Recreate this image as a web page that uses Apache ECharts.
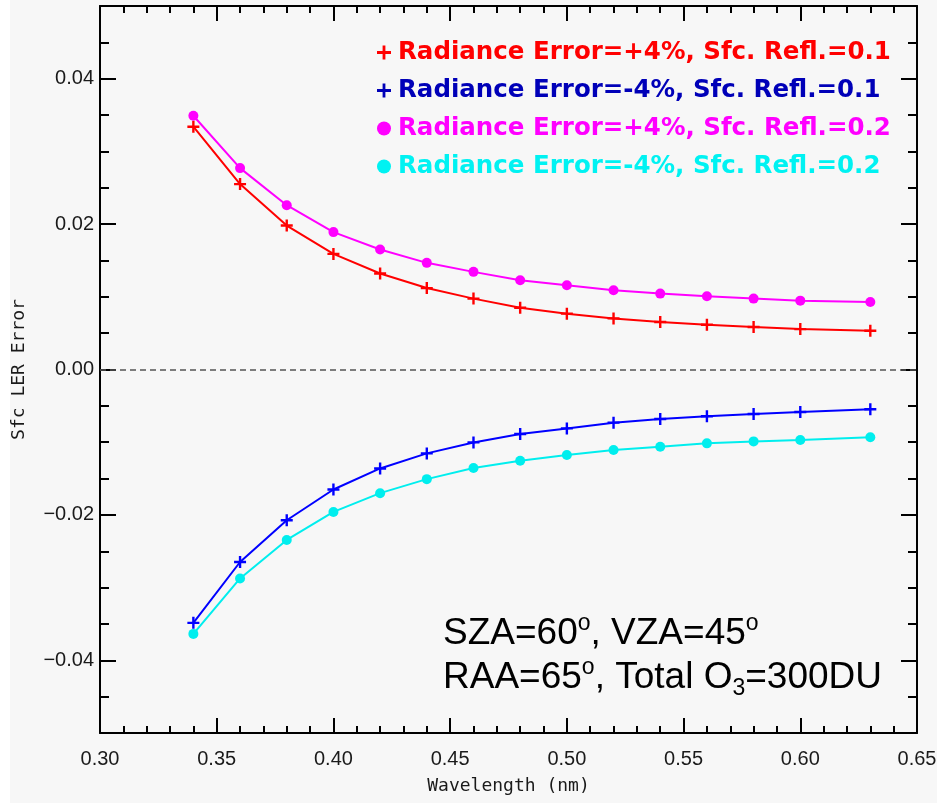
<!DOCTYPE html>
<html>
<head>
<meta charset="utf-8">
<script src="https://cdn.jsdelivr.net/npm/echarts@6/dist/echarts.min.js"></script>
<style>
html,body{margin:0;padding:0;background:#ffffff;}
#c{position:absolute;left:10px;top:0;width:927px;height:803px;}
</style>
</head>
<body>
<div id="c"></div>
<script>
// ---- data ----
const wavelengths = [0.34,0.36,0.38,0.40,0.42,0.44,0.46,0.48,0.50,0.52,0.54,0.56,0.58,0.60,0.63];
const errPlus01  = [0.0334,0.0255,0.0198,0.0159,0.0132,0.0112,0.00975,0.0085,0.00768,0.00703,0.00653,0.00616,0.00584,0.00556,0.00533];
const errMinus01 = [-0.03485,-0.02648,-0.02074,-0.01651,-0.01361,-0.01154,-0.01003,-0.00887,-0.0081,-0.00731,-0.0068,-0.00644,-0.00612,-0.00584,-0.00547];
const errPlus02  = [0.0349,0.0277,0.0226,0.0189,0.0165,0.01467,0.01343,0.01228,0.01159,0.0109,0.01044,0.01007,0.00975,0.00947,0.00929];
const errMinus02 = [-0.03637,-0.02874,-0.02345,-0.01959,-0.01701,-0.01508,-0.01356,-0.01255,-0.01177,-0.01108,-0.01062,-0.01016,-0.00989,-0.0097,-0.00933];
const seriesNames = [
  'Radiance Error=+4%, Sfc. Refl.=0.1',
  'Radiance Error=-4%, Sfc. Refl.=0.1',
  'Radiance Error=+4%, Sfc. Refl.=0.2',
  'Radiance Error=-4%, Sfc. Refl.=0.2'
];
const yMajorTicks = [-0.04,-0.02,0,0.02,0.04];
const xAxisName = 'Wavelength (nm)';
const yAxisName = 'Sfc LER Error';

// ---- styling ----
const PLUS = 'path://M0,4H10V6H0Z M4,0H6V10H4Z';
const lineColors = ['#ff0000','#0000ff','#ff00ff','#00eeee'];
const textColors = ['#ff0000','#0000b8','#ff00ff','#00f2f2'];
const symbols = [PLUS, PLUS, 'circle', 'circle'];
const symbolSizes = [12, 12, 10, 10];
const allData = [errPlus01, errMinus01, errPlus02, errMinus02];

const zip = arr => wavelengths.map((w,i)=>[w, arr[i]]);
const fmt = v => { const s = Math.abs(v).toFixed(2); return v < -1e-9 ? '\u2212' + s : s; };

const axisLineStyle = {color:'#000', width:2};
const tickFont = {fontFamily:'Liberation Sans', fontSize:20, color:'#1a1a1a'};
const nameFont = {fontFamily:'DejaVu Sans Mono', fontSize:18, color:'#1a1a1a'};

const series = allData.map((d,i)=>({
  name: seriesNames[i],
  type:'line',
  data: zip(d),
  xAxisIndex:0, yAxisIndex:0,
  symbol: symbols[i],
  symbolSize: symbolSizes[i],
  showAllSymbol:true,
  lineStyle:{color:lineColors[i], width:2},
  itemStyle:{color:lineColors[i]},
  emphasis:{disabled:true},
  animation:false,
  z: 3
}));
series[0].markLine = {
  silent:true, symbol:['none','none'], label:{show:false},
  lineStyle:{type:[6,4], color:'#555', width:1.5},
  data:[{yAxis:0}], animation:false
};

const chart = echarts.init(document.getElementById('c'), null, {renderer:'canvas'});
chart.setOption({
  backgroundColor:'#f7f7f7',
  animation:false,
  grid:{left:90, right:20, top:6, bottom:70, containLabel:false, outerBoundsMode:'none'},
  legend:{
    orient:'vertical', left:362, top:35, itemGap:13,
    itemWidth:14, itemHeight:14,
    selectedMode:false,
    textStyle:{fontFamily:'DejaVu Sans', fontWeight:'bold', fontSize:24.5, padding:[0,0,0,2]},
    data: seriesNames.map((n,i)=>({
      name:n, icon: i<2 ? PLUS : 'circle',
      itemStyle:{color:textColors[i]},
      textStyle:{color:textColors[i]}
    }))
  },
  xAxis:[
    {type:'value', min:0.30, max:0.65, interval:0.05, position:'bottom',
     name:xAxisName, nameLocation:'middle', nameGap:44,
     nameTextStyle:nameFont,
     axisLine:{show:true, onZero:false, lineStyle:axisLineStyle},
     axisTick:{show:true, inside:true, length:15, lineStyle:{color:'#000', width:2}},
     minorTick:{show:true, splitNumber:5, length:7, lineStyle:{color:'#000', width:2}},
     axisLabel:{show:true, margin:16, formatter:fmt, ...tickFont},
     splitLine:{show:false}, minorSplitLine:{show:false}},
    {type:'value', min:0.30, max:0.65, interval:0.05, position:'top',
     axisLine:{show:true, onZero:false, lineStyle:axisLineStyle},
     axisTick:{show:true, inside:true, length:15, lineStyle:{color:'#000', width:2}},
     minorTick:{show:true, splitNumber:5, length:7, lineStyle:{color:'#000', width:2}},
     axisLabel:{show:false}, splitLine:{show:false}}
  ],
  yAxis:[
    {type:'value', min:-0.05, max:0.05, interval:0.005, position:'left',
     axisLine:{show:true, onZero:false, lineStyle:axisLineStyle},
     axisTick:{show:true, inside:true, length:9, lineStyle:{color:'#000', width:2}},
     axisLabel:{show:false}, splitLine:{show:false}},
    {type:'value', min:-0.05, max:0.05, position:'left',
     name:yAxisName, nameLocation:'middle', nameGap:72, nameRotate:90,
     nameTextStyle:nameFont,
     axisLine:{show:false},
     axisTick:{show:true, inside:true, length:16, customValues:yMajorTicks, lineStyle:{color:'#000', width:2}},
     axisLabel:{show:true, margin:6, customValues:yMajorTicks, formatter:fmt, ...tickFont},
     splitLine:{show:false}},
    {type:'value', min:-0.05, max:0.05, interval:0.005, position:'right',
     axisLine:{show:true, onZero:false, lineStyle:axisLineStyle},
     axisTick:{show:true, inside:true, length:9, lineStyle:{color:'#000', width:2}},
     axisLabel:{show:false}, splitLine:{show:false}},
    {type:'value', min:-0.05, max:0.05, position:'right',
     axisLine:{show:false},
     axisTick:{show:true, inside:true, length:16, customValues:yMajorTicks, lineStyle:{color:'#000', width:2}},
     axisLabel:{show:false}, splitLine:{show:false}}
  ],
  graphic:[
    {type:'text', left:433, top:612, z:10, silent:true,
     style:{
       text:'{m|SZA=60}{s|o}{m|, VZA=45}{s|o}\n{m|RAA=65}{s|o}{m|, Total O}{b|3}{m|=300DU}',
       rich:{
         m:{fontFamily:'Liberation Sans', fontSize:37, color:'#4a4a4a', lineHeight:44, verticalAlign:'middle'},
         s:{fontFamily:'Liberation Sans', fontSize:23, color:'#4a4a4a', lineHeight:44, verticalAlign:'top', padding:[0,0,14,0]},
         b:{fontFamily:'Liberation Sans', fontSize:23, color:'#4a4a4a', lineHeight:44, verticalAlign:'bottom', padding:[10,0,0,0]}
       }
     }}
  ],
  series: series
});
</script>
</body>
</html>
